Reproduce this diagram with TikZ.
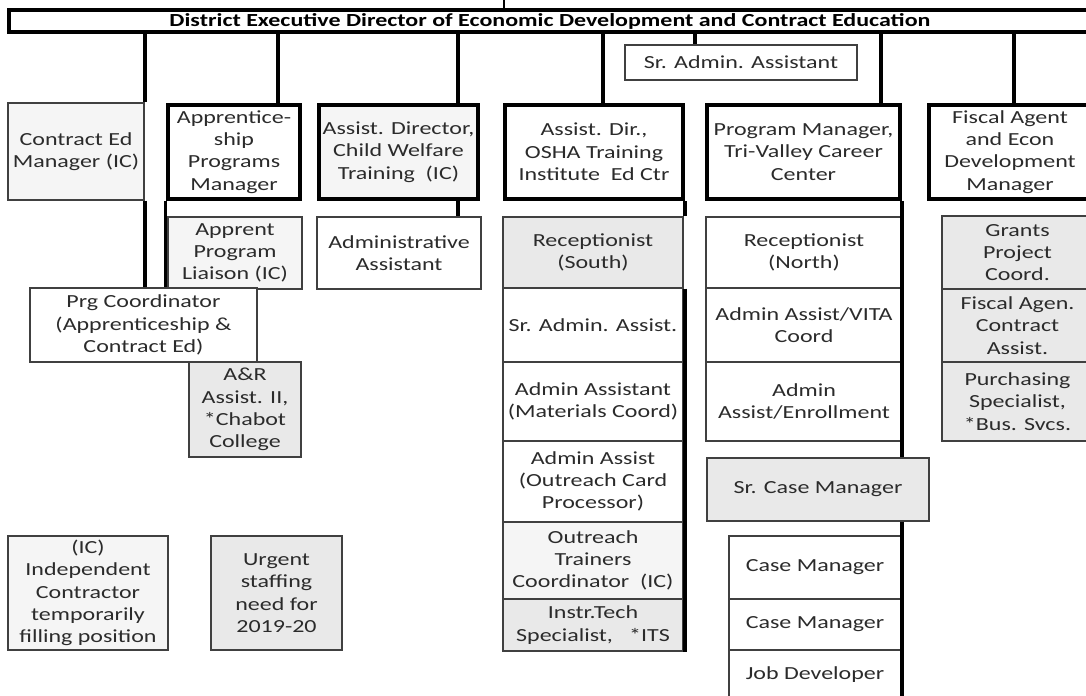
\documentclass[tikz,border=0pt]{standalone}
\usepackage{fontspec}
\setmainfont{Carlito}[FakeStretch=1.3]
\usepackage{tikz}

\definecolor{lightfill}{HTML}{F5F5F5}
\definecolor{greyfill}{HTML}{E9E9E9}
\definecolor{inkgrey}{HTML}{2B2B2B}

\tikzset{
  boxsize/.style 2 args={minimum width=#1*0.02cm, minimum height=#2*0.02cm},
  chief/.style={draw, line width=2.4pt, fill=white, inner sep=1pt, align=center},
  staff/.style={draw=black!75, line width=0.7pt, fill=white, inner sep=1pt, align=center},
  link/.style={line width=2.4pt},
}

\begin{document}
\begin{tikzpicture}[x=0.02cm, y=-0.02cm,
  every node/.append style={font=\fontsize{10.5}{12.7}\selectfont, text=inkgrey}]
\useasboundingbox (0,0) rectangle (1086,696);
\clip (0,0) rectangle (1086,696);

% director
\node (top) [chief, boxsize={1082}{22}, text=black] at (550,21) {\bfseries District Executive Director of Economic Development and Contract Education};
\node (sradmin) [staff, boxsize={232}{35}] at (741,62.5) {Sr. Admin. Assistant};

% managers
\node (contract) [staff, fill=lightfill, boxsize={136}{97}] at (76,151.5) {Contract Ed\\Manager (IC)};
\node (apprent) [chief, boxsize={132}{94}] at (234,152) {Apprentice-\\ship\\Programs\\Manager};
\node (childw) [chief, fill=lightfill, boxsize={159}{94}] at (398.5,152) {Assist. Director,\\Child Welfare\\Training\ \ (IC)};
\node (osha) [chief, boxsize={178}{94}] at (594,152) {Assist. Dir.,\\OSHA Training\\Institute\ \ Ed Ctr};
\node (tvcc) [chief, boxsize={193}{94}] at (803.5,152) {Program Manager,\\Tri-Valley Career\\Center};
\node (fiscal) [chief, boxsize={162}{94}] at (1010,152) {Fiscal Agent\\and Econ\\Development\\Manager};

% apprenticeship / contract ed
\node (liaison) [staff, fill=lightfill, boxsize={134}{72}] at (235,253) {Apprent\\Program\\Liaison (IC)};
\node (prgcoord) [staff, boxsize={227}{74}] at (143.5,325) {Prg Coordinator\\(Apprenticeship \&\\Contract Ed)};
\node (arasst) [staff, fill=greyfill, boxsize={112}{95}] at (245,409.5) {A\&R\\Assist. II,\\*Chabot\\College};

% child welfare
\node (adminasst) [staff, boxsize={164}{72}] at (399,253) {Administrative\\Assistant};

% osha column
\node (recsouth) [staff, fill=greyfill, boxsize={180}{71}] at (593,252.5) {Receptionist\\(South)};
\node (sradmin2) [staff, boxsize={180}{74}] at (593,325) {Sr. Admin. Assist.};
\node (matcoord) [staff, boxsize={180}{79}] at (593,401.5) {Admin Assistant\\(Materials Coord)};
\node (outcard) [staff, boxsize={180}{81}] at (593,481.5) {Admin Assist\\(Outreach Card\\Processor)};
\node (outtrain) [staff, fill=lightfill, boxsize={180}{77}] at (593,560.5) {Outreach\\Trainers\\Coordinator\ \ (IC)};
\node (instrtech) [staff, fill=greyfill, boxsize={180}{52}] at (593,625) {Instr.Tech\\Specialist,\ \ \ *ITS};

% tri-valley column
\node (recnorth) [staff, boxsize={196}{71}] at (804,252.5) {Receptionist\\(North)};
\node (vita) [staff, boxsize={196}{74}] at (804,325) {Admin Assist/VITA\\Coord};
\node (enroll) [staff, boxsize={196}{79}] at (804,401.5) {Admin\\Assist/Enrollment};
\node (srcase) [staff, fill=greyfill, boxsize={222}{63}] at (818,489.5) {Sr. Case Manager};
\node (case1) [staff, boxsize={172}{63}] at (815,567.5) {Case Manager};
\node (case2) [staff, boxsize={172}{51}] at (815,624.5) {Case Manager};
\node (jobdev) [staff, boxsize={172}{50}] at (815,675) {Job Developer};

% fiscal column
\node (grants) [staff, fill=greyfill, boxsize={151}{73}] at (1017.5,252.5) {Grants\\Project\\Coord.};
\node (fiscagen) [staff, fill=greyfill, boxsize={151}{73}] at (1017.5,325.5) {Fiscal Agen.\\Contract\\Assist.};
\node (purch) [staff, fill=greyfill, boxsize={151}{79}] at (1017.5,401.5) {Purchasing\\Specialist,\\*Bus. Svcs.};

% legend
\node (legendic) [staff, fill=lightfill, boxsize={160}{114}] at (88,593) {(IC)\\Independent\\Contractor\\temporarily\\filling position};
\node (legendurg) [staff, fill=greyfill, boxsize={131}{114}] at (276.5,593) {Urgent\\staffing\\need for\\2019-20};

% drop points
\coordinate (tick) at (504,0);
\coordinate (d2) at (278,0);
\coordinate (d3) at (458,0);
\coordinate (d4) at (603,0);
\coordinate (dsa) at (695,0);
\coordinate (d5) at (881,0);
\coordinate (d6) at (1014,0);

% lines
\draw [line width=1.6pt] (top.north -| tick) -- (tick);
\draw [link] (top.south -| contract.east) -- (contract.north east);
\draw [link] (contract.south east) -- (prgcoord.north -| contract.east);
\draw [link] (top.south -| d2) -- (apprent.north -| d2);
\draw [line width=1.8pt] (apprent.south west) -- (prgcoord.north -| apprent.west);
\draw [link] (top.south -| d3) -- (childw.north -| d3);
\draw [link] (childw.south -| d3) -- (adminasst.north -| d3);
\draw [link] (top.south -| d4) -- (osha.north -| d4);
\draw [link] (osha.south east) -- (recsouth.north -| osha.east);
\draw [link] (recsouth.south -| osha.east) -- (instrtech.south -| osha.east);
\draw [line width=1.8pt] (top.south -| dsa) -- (sradmin.north -| dsa);
\draw [link] (top.south -| d5) -- (tvcc.north -| d5);
\draw [link] (tvcc.south east) -- (srcase.north -| tvcc.east);
\draw [link] (srcase.south -| tvcc.east) -- (jobdev.south -| tvcc.east);
\draw [link] (top.south -| d6) -- (fiscal.north -| d6);
\end{tikzpicture}
\end{document}
